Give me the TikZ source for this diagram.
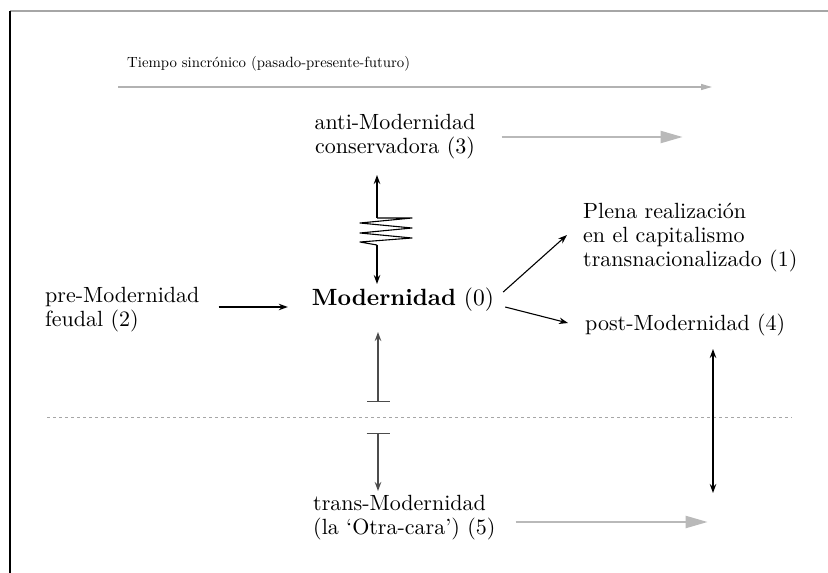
\documentclass[tikz,border=0pt]{standalone}
\usepackage{fontspec}
\setmainfont{lmroman10-regular.otf}[BoldFont=lmroman10-bold.otf]
\usetikzlibrary{arrows.meta,calc}
\begin{document}
\begin{tikzpicture}[x=1pt,y=-1pt,
  lbl/.style={inner sep=0pt, font=\fontsize{22}{24}\selectfont},
  blk/.style={line width=1.1pt, black, -{Stealth[length=9pt,width=6.5pt]}},
  dbl/.style={line width=1.1pt, black, {Stealth[length=9pt,width=6.5pt]}-{Stealth[length=9pt,width=6.5pt]}},
  flow/.style={line width=2.2pt, gray!55, -{Triangle[length=22pt,width=12pt]}},
  timeline/.style={line width=1.3pt, gray!60, -{Triangle[length=11pt,width=6pt]}},
  bararrow/.style={line width=1.2pt, black!70, {Bar[width=23pt,line width=1.3pt]}-{Stealth[length=9pt,width=6.5pt]}},
]
\useasboundingbox (0,0) rectangle (828,573);
% frame: top and left edges
\draw[line width=1.4pt, gray!70] (10,11) -- (828,11);
\draw[line width=1.3pt, black] (10,11) -- (10,573);

% time axis
\node[anchor=base west, inner sep=0pt, font=\fontsize{14.8}{16}\selectfont] (tiempo) at (127,67) {Tiempo sincrónico (pasado-presente-futuro)};
\coordinate (t0) at (118,87);
\coordinate (t1) at (712,87);
\draw[timeline] (t0) -- (t1);

% labels
\node[lbl, align=center] (anti) at (395,137) {anti-Modernidad\\conservadora (3)};
\node[lbl, font=\fontsize{23.5}{25}\selectfont] (mod) at (403,300) {\textbf{Modernidad} (0)};
\node[lbl, align=left, anchor=west] (pre) at (45,310) {pre-Modernidad\\feudal (2)};
\node[lbl, align=left, anchor=west] (plena) at (583,238) {Plena realización\\en el capitalismo\\transnacionalizado (1)};
\node[lbl, anchor=west] (post) at (585,325) {post-Modernidad (4)};
\node[lbl, align=left, anchor=west] (trans) at (313,518) {trans-Modernidad\\(la `Otra-cara') (5)};

% horizontal flows
\draw[flow] ($(anti.east)+(26,0)$) -- ($(anti.east)+(207,0)$);
\draw[flow] ($(trans.east)+(20,4)$) -- ($(trans.east)+(212,4)$);
\draw[blk] ($(pre.east)+(19,-3)$) -- ($(mod.west)+(-24,7)$);
\draw[blk] ($(mod.east)+(9,-8)$) -- ($(plena.west)+(-16,-3)$);
\draw[blk] ($(mod.east)+(11,7)$) -- ($(post.west)+(-17,-2)$);

% spring between Modernidad and anti-Modernidad
\coordinate (sp0) at (377,218);
\coordinate (sp1) at (377,245);
\draw[blk] (sp0) -- (377,175);
\draw[blk] (sp1) -- (377,284);
\draw[line width=1.1pt, line join=round] (sp0) -- (412,218) -- (360,223) -- (412,228) -- (360,233) -- (412,238) -- (360,242) -- (sp1);

% divide line
\coordinate (d0) at (47,417);
\coordinate (d1) at (792,417);
\draw[gray!70, line width=1pt, dash pattern=on 3pt off 3pt] (d0) -- (d1);

% blocked links across the divide
\coordinate (b0) at (378,402);
\coordinate (b1) at (378,332);
\coordinate (b2) at (378,433);
\coordinate (b3) at (378,491);
\draw[bararrow] (b0) -- (b1);
\draw[bararrow] (b2) -- (b3);

% post-Modernidad to trans-Modernidad
\coordinate (r0) at (713,349);
\coordinate (r1) at (713,493);
\draw[dbl] (r0) -- (r1);
\end{tikzpicture}
\end{document}
